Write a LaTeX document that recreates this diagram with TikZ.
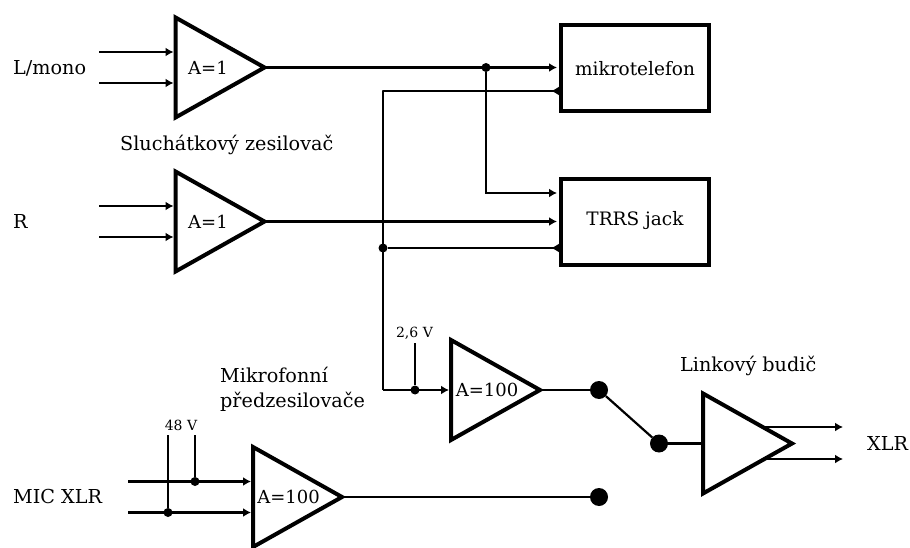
\documentclass[tikz,border=0pt]{standalone}
\usepackage{fontspec}
\setmainfont{DejaVu Serif}
\usetikzlibrary{arrows.meta,calc}
\tikzset{
 wire/.style={line width=2.2pt,draw=black},
 arr/.style={wire,-{Latex[length=8pt,width=9pt]},shorten >=2pt},
 barb/.style={wire,-{Latex[length=8pt,width=9pt]}},
 amp/.style={line width=4pt,draw=black,miter limit=10,line join=miter},
 box/.style={draw=black,line width=4pt,inner sep=0pt,minimum width=148pt,minimum height=86pt},
 lab/.style={inner sep=0pt,font=\fontsize{19.2}{22}\selectfont},
 boxlab/.style={inner sep=0pt,font=\fontsize{18.5}{22}\selectfont},
 gain/.style={inner sep=0pt,font=\fontsize{18}{20}\selectfont},
 small/.style={inner sep=0pt,font=\fontsize{14}{16}\selectfont},
 dot/.style={circle,fill=black,inner sep=0pt,minimum size=9pt},
 bigdot/.style={circle,fill=black,inner sep=0pt,minimum size=18pt}
}
\begin{document}
\begin{tikzpicture}[x=1pt,y=-1pt]
\useasboundingbox (0,0) rectangle (910,548);
% amplifier corners
\foreach \n/\x/\yc in {a/175.5/67.5,b/175.5/221.5,c/451/390,d/253/497,e/703/443.5}{
  \coordinate (\n t) at (\x,\yc-50);
  \coordinate (\n b) at (\x,\yc+50);
  \coordinate (\n o) at (\x+89,\yc);
  \coordinate (\n m) at (\x,\yc);
  \coordinate (\n i) at (\x,\yc-15.5);
  \coordinate (\n j) at (\x,\yc+15.5);
}
\node[box] (tel) at (635,68) {};
\node[box] (jack) at (635,222) {};
\coordinate (s1) at (99,52); \coordinate (s2) at (99,83);
\coordinate (s3) at (99,206); \coordinate (s4) at (99,237);
\coordinate (s5) at (128,481.5); \coordinate (s6) at (128,512.5);
\coordinate (v1) at (168,435); \coordinate (v2) at (195,435);
\coordinate (v3) at (415,343);
\node[dot] (n1) at (486,67.5) {};
\node[dot] (n2) at (383,248) {};
\node[dot] (n3) at (415,390) {};
\node[dot] (n4) at (195,481.5) {};
\node[dot] (n5) at (168,512.5) {};
\node[bigdot] (k1) at (599,390) {};
\node[bigdot] (k2) at (599,497) {};
\node[bigdot] (k3) at (659,443.5) {};
\coordinate (c1) at (383,91);
\coordinate (x1) at (765,427); \coordinate (x2) at (765,459);
\coordinate (x1e) at (843,427); \coordinate (x2e) at (843,459);
% wires
\draw[arr] (s1) -- (s1 -| ai); \draw[arr] (s2) -- (s2 -| aj);
\draw[arr] (s3) -- (s3 -| bi); \draw[arr] (s4) -- (s4 -| bj);
\draw[arr] (s5) -- (di); \draw[arr] (s6) -- (dj);
\draw[arr] (ao) -- (tel.west |- ao);
\draw[arr] (n1) |- (jack.west |- 0,193);
\draw[arr] (bo) -- (jack.west |- bo);
\draw[wire,line join=round] (tel.west |- c1) -- (c1) -- (c1 |- cm);
\draw[barb] (tel.west |- c1) -- ++(-8,0);
\draw[wire] (jack.west |- n2) -- (n2);
\draw[barb] (jack.west |- n2) -- ++(-8,0);
\draw[arr] (c1 |- cm) -- (cm);
\draw[wire] (v3) -- (n3);
\draw[wire] (v1) -- (n5); \draw[wire] (v2) -- (n4);
\draw[wire] (co) -- (k1);
\draw[wire] (do) -- (k2);
\draw[wire] (k1) -- (k3);
\draw[wire] (k3) -- (em);
\draw[barb] (x1) -- (x1e); \draw[barb] (x2) -- (x2e);
% amplifiers
\foreach \n in {a,b,c,d,e}{\draw[amp,fill=white] (\n t) -- (\n o) -- (\n b) -- cycle;}
\node[boxlab] (tt) at (635,69) {mikrotelefon};
\node[boxlab] (tj) at (635,221) {TRRS jack};
\node[gain] (ga) at (208,68) {A=1};
\node[gain] (gb) at (208,222) {A=1};
\node[gain] (gc) at (487,390) {A=100};
\node[gain] (gd) at (288.5,497) {A=100};
\node[lab,anchor=west] (t1) at (13,68) {L/mono};
\node[lab,anchor=west] (t2) at (13,222) {R};
\node[lab,anchor=west] (t3) at (120,145) {Sluchátkový zesilovač};
\node[small] (t4) at (414.5,333) {2,6 V};
\node[small] (t5) at (181,425) {48 V};
\node[lab,anchor=west] (t6) at (220,375) {Mikrofonní};
\node[lab,anchor=west] (t7) at (220,402) {předzesilovače};
\node[lab,anchor=west] (t8) at (13,497) {MIC XLR};
\node[lab,anchor=west] (t9) at (680,366) {Linkový budič};
\node[lab,anchor=west] (t10) at (867,443) {XLR};
\end{tikzpicture}
\end{document}
